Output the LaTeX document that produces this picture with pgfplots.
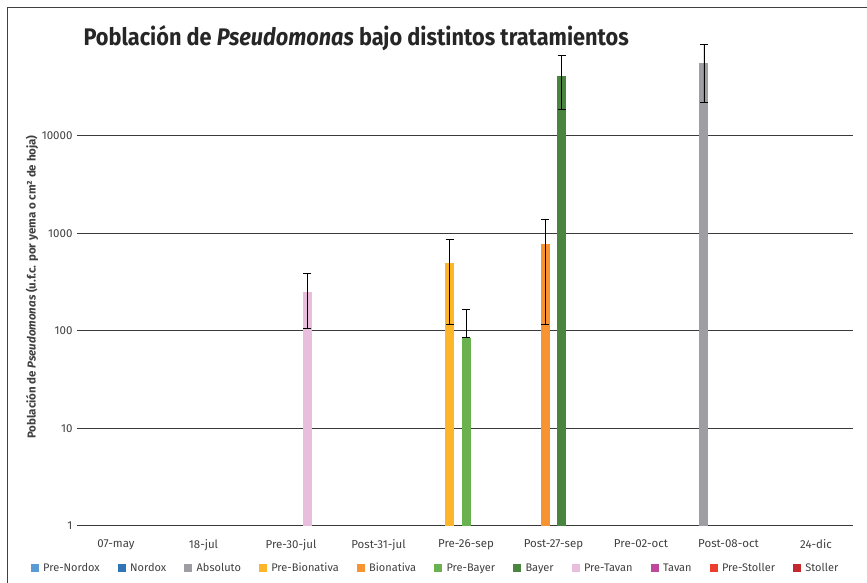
\documentclass[border=0pt]{standalone}
\usepackage{pgfplots}
\pgfplotsset{compat=1.18}
\usepackage{fontspec}
\setmainfont{Fira Sans}
\definecolor{cPreNordox}{HTML}{5B9BD5}
\definecolor{cNordox}{HTML}{2E75B6}
\definecolor{cAbsoluto}{HTML}{9D9FA3}
\definecolor{cPreBionativa}{HTML}{FDB62A}
\definecolor{cBionativa}{HTML}{F79431}
\definecolor{cPreBayer}{HTML}{6AB24F}
\definecolor{cBayer}{HTML}{4A8540}
\definecolor{cPreTavan}{HTML}{E8BEDC}
\definecolor{cTavan}{HTML}{C0489C}
\definecolor{cPreStoller}{HTML}{EE3D2C}
\definecolor{cStoller}{HTML}{C5282C}
\definecolor{framec}{HTML}{404040}
\definecolor{gridc}{HTML}{3A3A3A}
\definecolor{textc}{HTML}{404040}
\begin{document}
\begin{tikzpicture}[x=1pt,y=1pt]
\useasboundingbox (0,0) rectangle (867,583);
\draw[color=framec, line width=1.5pt] (7.5,0) -- (7.5,575.5) -- (867,575.5);
\begin{axis}[
  at={(77pt,57pt)}, anchor=south west,
  scale only axis, width=776pt, height=488pt,
  xmin=-0.446, xmax=8.423,
  ymode=log, ymin=1, ymax=100000,
  ytick={1,10,100,1000,10000},
  yticklabels={1,10,100,1000,10000},
  minor ytick={},
  ymajorgrids, major grid style={color=gridc, line width=1pt},
  axis line style={draw=none},
  tick style={draw=none},
  xtick={0,1,2,3,4,5,6,7,8},
  xticklabels={07-may,18-jul,Pre-30-jul,Post-31-jul,Pre-26-sep,Post-27-sep,Pre-02-oct,Post-08-oct,24-dic},
  ticklabel style={font=\fontsize{11.5}{13}\selectfont, color=textc},
  xticklabel style={yshift=-10pt},
  yticklabel style={xshift=-1pt},
  sq/.style={legend image code/.code={\fill[#1] (0pt,-3.5pt) rectangle (7pt,3.5pt);}},
  legend columns=11,
  legend style={draw=none, fill=none, at={(0.462,-0.086)}, anchor=center,
    font=\fontsize{11}{13}\selectfont, text=textc,
    /tikz/every odd column/.append style={column sep=3pt},
    /tikz/every even column/.append style={column sep=16pt}},
  legend cell align=left,
  error bars/error bar style={black, line width=0.8pt},
  error bars/error mark options={rotate=90, mark size=4pt, black, line width=0.8pt},
]
\addlegendimage{sq=cPreNordox}\addlegendentry{Pre-Nordox}
\addlegendimage{sq=cNordox}\addlegendentry{Nordox}
\addlegendimage{sq=cAbsoluto}\addlegendentry{Absoluto}
\addlegendimage{sq=cPreBionativa}\addlegendentry{Pre-Bionativa}
\addlegendimage{sq=cBionativa}\addlegendentry{Bionativa}
\addlegendimage{sq=cPreBayer}\addlegendentry{Pre-Bayer}
\addlegendimage{sq=cBayer}\addlegendentry{Bayer}
\addlegendimage{sq=cPreTavan}\addlegendentry{Pre-Tavan}
\addlegendimage{sq=cTavan}\addlegendentry{Tavan}
\addlegendimage{sq=cPreStoller}\addlegendentry{Pre-Stoller}
\addlegendimage{sq=cStoller}\addlegendentry{Stoller}

% bars placed at category index + (series-5)*0.0937 (series slot offset)
% Absoluto (series 2)
\addplot[forget plot, ybar, bar width=9pt, bar shift=0pt, fill=cAbsoluto, draw=none,
  error bars/.cd, y dir=both, y explicit]
  coordinates {(6.719,55000) += (0,31800) -= (0,33000)};
% Pre-Bionativa (series 3)
\addplot[forget plot, ybar, bar width=9pt, bar shift=0pt, fill=cPreBionativa, draw=none,
  error bars/.cd, y dir=both, y explicit]
  coordinates {(3.813,490) += (0,380) -= (0,375)};
% Bionativa (series 4)
\addplot[forget plot, ybar, bar width=9pt, bar shift=0pt, fill=cBionativa, draw=none,
  error bars/.cd, y dir=both, y explicit]
  coordinates {(4.906,770) += (0,630) -= (0,655)};
% Pre-Bayer (series 5)
\addplot[forget plot, ybar, bar width=9pt, bar shift=0pt, fill=cPreBayer, draw=none,
  error bars/.cd, y dir=both, y explicit]
  coordinates {(4,85) += (0,82) -= (0,0)};
% Bayer (series 6)
\addplot[forget plot, ybar, bar width=9pt, bar shift=0pt, fill=cBayer, draw=none,
  error bars/.cd, y dir=both, y explicit]
  coordinates {(5.094,41000) += (0,24600) -= (0,22300)};
% Pre-Tavan (series 7)
\addplot[forget plot, ybar, bar width=9pt, bar shift=0pt, fill=cPreTavan, draw=none,
  error bars/.cd, y dir=both, y explicit]
  coordinates {(2.187,250) += (0,135) -= (0,145)};
\end{axis}
\node[anchor=base west, font=\bfseries\fontsize{24}{28}\selectfont, text=black!85] at (80,537)
  {\scalebox{0.905}[1]{Población de \textit{Pseudomonas} bajo distintos tratamientos}};
\node[rotate=90, font=\bfseries\fontsize{11.5}{13}\selectfont, text=textc] at (32,296)
  {Población de \textit{Pseudomonas} (u.f.c. por yema o cm² de hoja)};
\end{tikzpicture}
\end{document}
